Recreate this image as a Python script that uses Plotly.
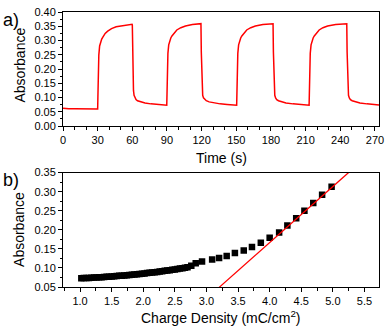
import plotly.graph_objects as go

# a) absorbance vs time during switching cycles
time_s = [
    0, 2, 5, 10, 20, 30.0,
    30.2, 30.4, 30.6, 31.0, 31.7, 32.5, 33.5, 34.5, 36.5, 38.7, 42, 46, 52, 59.8,
    60.0, 60.3, 60.6, 61.0, 61.5, 62.2, 63.2, 64.5, 67, 71, 76, 82, 89.8,
    90.0, 90.2, 90.4, 90.8, 91.5, 92.3, 93.3, 94.3, 96.3, 98.5, 102, 106, 112, 119.2,
    119.4, 119.7, 120.0, 120.4, 120.9, 121.6, 122.6, 124, 126.5, 130.5, 136, 142, 150.3,
    150.5, 150.7, 150.9, 151.3, 152, 152.8, 153.8, 154.8, 156.8, 159, 162.5, 166.5, 173, 181.6,
    181.8, 182.1, 182.4, 182.8, 183.3, 184, 185, 186.5, 189, 193, 199, 205, 213.0,
    213.2, 213.4, 213.6, 214, 214.7, 215.5, 216.5, 217.5, 219.5, 221.7, 225, 229, 236, 245.4,
    245.6, 245.9, 246.2, 246.6, 247.1, 247.8, 248.8, 250.3, 253, 257, 263, 268, 273.5,
]
absorbance_a = [
    0.063, 0.062, 0.061, 0.061, 0.060, 0.060,
    0.100, 0.170, 0.210, 0.249, 0.281, 0.295, 0.305, 0.312, 0.325, 0.333, 0.342, 0.348, 0.353, 0.357,
    0.355, 0.260, 0.180, 0.125, 0.108, 0.099, 0.093, 0.089, 0.085, 0.081, 0.078, 0.076, 0.073,
    0.110, 0.180, 0.220, 0.255, 0.285, 0.299, 0.309, 0.316, 0.328, 0.337, 0.345, 0.351, 0.356, 0.361,
    0.359, 0.260, 0.180, 0.126, 0.108, 0.099, 0.093, 0.089, 0.085, 0.081, 0.078, 0.076, 0.073,
    0.110, 0.180, 0.220, 0.255, 0.285, 0.299, 0.309, 0.316, 0.328, 0.337, 0.345, 0.351, 0.356, 0.361,
    0.359, 0.260, 0.180, 0.126, 0.108, 0.099, 0.093, 0.089, 0.085, 0.081, 0.078, 0.076, 0.073,
    0.110, 0.180, 0.220, 0.255, 0.285, 0.299, 0.309, 0.316, 0.328, 0.337, 0.345, 0.351, 0.356, 0.361,
    0.359, 0.260, 0.180, 0.126, 0.108, 0.099, 0.093, 0.089, 0.085, 0.081, 0.078, 0.076, 0.074,
]

# b) absorbance vs charge density
charge_density = [
    1.02, 1.06, 1.10, 1.14, 1.18, 1.22, 1.26, 1.30, 1.34, 1.38, 1.42, 1.46, 1.50, 1.54,
    1.58, 1.62, 1.66, 1.70, 1.74, 1.78, 1.82, 1.86, 1.90, 1.94, 1.98, 2.02, 2.06, 2.10,
    2.14, 2.18, 2.22, 2.26, 2.30, 2.34, 2.38, 2.42, 2.46, 2.50, 2.54, 2.58, 2.62, 2.66, 2.70,
    2.76, 2.83, 2.93, 3.09, 3.20, 3.32, 3.45, 3.59, 3.72, 3.86, 4.00, 4.15, 4.28, 4.42, 4.55,
    4.69, 4.83, 4.98,
]
absorbance_b = [
    0.0730, 0.0733, 0.0736, 0.0739, 0.0742, 0.0746, 0.0750, 0.0754, 0.0758, 0.0762, 0.0767,
    0.0772, 0.0777, 0.0782, 0.0787, 0.0792, 0.0798, 0.0804, 0.0810, 0.0816, 0.0822, 0.0829,
    0.0836, 0.0843, 0.0850, 0.0857, 0.0864, 0.0872, 0.0880, 0.0888, 0.0896, 0.0905, 0.0914,
    0.0923, 0.0932, 0.0942, 0.0952, 0.0962, 0.0972, 0.0983, 0.0994, 0.1005, 0.1016,
    0.106, 0.112, 0.117, 0.122, 0.126, 0.131, 0.139, 0.146, 0.155, 0.166, 0.179, 0.193, 0.211,
    0.230, 0.250, 0.270, 0.292, 0.313,
]

# linear fit of the high charge region
fit_x = [3.20, 5.25]
fit_y = [0.049, 0.350]

RED = "rgb(255,0,0)"
FONT = "Liberation Sans, Arial"

fig = go.Figure()
fig.add_trace(go.Scatter(x=time_s, y=absorbance_a, mode="lines",
                         line=dict(color=RED, width=1.5), xaxis="x", yaxis="y"))
fig.add_trace(go.Scatter(x=charge_density, y=absorbance_b, mode="markers",
                         marker=dict(symbol="square", size=6.5, color="black"),
                         xaxis="x2", yaxis="y2"))
fig.add_trace(go.Scatter(x=fit_x, y=fit_y, mode="lines",
                         line=dict(color=RED, width=1.3), xaxis="x2", yaxis="y2"))

axis_style = dict(showline=True, mirror=True, linecolor="black", linewidth=1,
                  ticks="outside", ticklen=4, tickcolor="black", showgrid=False,
                  zeroline=False, tickfont=dict(size=11, color="black"))

fig.update_layout(
    width=390, height=328,
    margin=dict(l=63, r=6, t=6, b=41),
    paper_bgcolor="white", plot_bgcolor="white",
    showlegend=False,
    font=dict(family=FONT, color="black"),
    xaxis=dict(domain=[0, 1], anchor="y", range=[0, 273.5], tick0=0, dtick=30,
               minor=dict(dtick=10, ticks="outside", ticklen=2.5, tickcolor="black"),
               **axis_style),
    yaxis=dict(domain=[0.585, 1.0], anchor="x", range=[0, 0.40], tick0=0, dtick=0.05,
               tickformat=".2f",
               minor=dict(dtick=0.025, ticks="outside", ticklen=2.5, tickcolor="black"),
               **axis_style),
    xaxis2=dict(domain=[0, 1], anchor="y2", range=[0.73, 5.73], tick0=1.0, dtick=0.5,
                tickformat=".1f",
                minor=dict(dtick=0.25, ticks="outside", ticklen=2.5, tickcolor="black"),
                **axis_style),
    yaxis2=dict(domain=[0, 0.416], anchor="x2", range=[0.05, 0.35], tick0=0.05, dtick=0.05,
                tickformat=".2f",
                minor=dict(dtick=0.025, ticks="outside", ticklen=2.5, tickcolor="black"),
                **axis_style),
)

labels = [
    dict(text="a)", x=-0.196, y=0.970, xanchor="left", yanchor="middle", font=dict(size=18)),
    dict(text="b)", x=-0.196, y=0.388, xanchor="left", yanchor="middle", font=dict(size=18)),
    dict(text="Time (s)", x=0.5, y=0.470, xanchor="center", yanchor="middle", font=dict(size=14)),
    dict(text="Charge Density (mC/cm<sup>2</sup>)", x=0.5, y=-0.110, xanchor="center",
         yanchor="middle", font=dict(size=14)),
    dict(text="Absorbance", x=-0.137, y=0.808, textangle=-90, xanchor="center",
         yanchor="middle", font=dict(size=14)),
    dict(text="Absorbance", x=-0.137, y=0.210, textangle=-90, xanchor="center",
         yanchor="middle", font=dict(size=14)),
]
for a in labels:
    fig.add_annotation(xref="paper", yref="paper", showarrow=False, **a)

# page body has a default margin; drop it so the chart sits at the window corner
fig.write_html("out.html", config={"displayModeBar": False},
               post_script="document.body.style.margin='0';")
